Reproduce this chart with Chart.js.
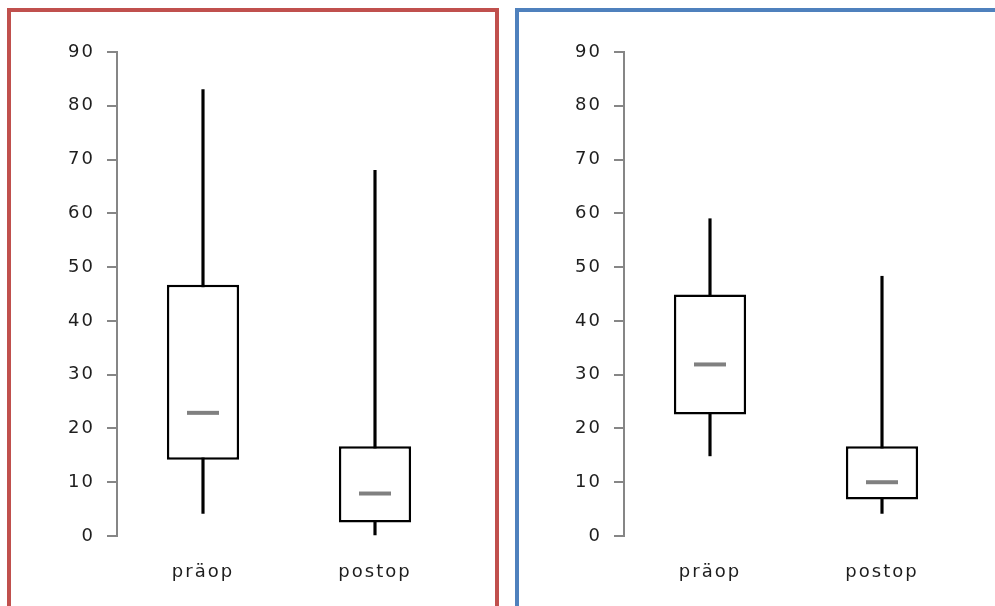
<!DOCTYPE html>
<html>
<head>
<meta charset="utf-8">
<script src="https://cdn.jsdelivr.net/npm/chart.js@4/dist/chart.umd.min.js"></script>
<style>
  html, body { margin: 0; padding: 0; background: #fff; overflow: hidden; }
  body { width: 995px; height: 606px; position: relative; }
  .frame { position: absolute; top: 8px; height: 700px; box-sizing: border-box; border-width: 4px; border-style: solid; border-bottom: none; }
  #frameLeft { left: 7px; width: 492px; border-color: #C0504D; }
  #frameRight { left: 515px; width: 500px; border-color: #4F81BD; border-right: none; }
  canvas { position: absolute; top: 12px; }
  #chartLeft { left: 11px; }
  #chartRight { left: 518px; }
</style>
</head>
<body>
<div class="frame" id="frameLeft"></div>
<div class="frame" id="frameRight"></div>
<canvas id="chartLeft" width="484" height="594"></canvas>
<canvas id="chartRight" width="477" height="594"></canvas>
<script>
// Categories and y axis range
const categories = ['präop', 'postop'];
const yMin = 0;
const yMax = 90;
const yStep = 10;

// Left panel: five-number summaries
const leftMin    = [4.2, 0];
const leftQ1     = [14.2, 2.5];
const leftMedian = [22.9, 7.9];
const leftQ3     = [46.7, 16.7];
const leftMax    = [83.0, 68.0];

// Right panel: five-number summaries
const rightMin    = [14.9, 4.2];
const rightQ1     = [22.6, 6.8];
const rightMedian = [31.9, 10.0];
const rightQ3     = [44.9, 16.7];
const rightMax    = [59.0, 48.3];

const TEXT_FONT = { family: 'DejaVu Sans', size: 18 };
const TEXT_COLOR = '#1e1e1e';
const AXIS_COLOR = '#868686';

// Spread glyphs a little, like the original worksheet font
const spacingPlugin = {
  id: 'letterSpacing',
  beforeLayout(chart) { chart.ctx.letterSpacing = '2px'; },
  beforeDraw(chart) { chart.ctx.letterSpacing = '2px'; }
};

function pairs(lo, hi) {
  return lo.map((v, i) => [v, hi[i]]);
}

function boxChart(canvasId, mins, q1s, medians, q3s, maxs, padRight) {
  return new Chart(document.getElementById(canvasId), {
    type: 'bar',
    data: {
      labels: categories,
      datasets: [
        {
          // medians
          type: 'line',
          data: medians,
          showLine: false,
          pointStyle: 'line',
          pointRadius: 16,
          pointHoverRadius: 16,
          pointBorderWidth: 4,
          pointBorderColor: '#808080',
          borderColor: '#808080',
          order: 1
        },
        {
          // interquartile boxes
          data: pairs(q1s, q3s),
          backgroundColor: '#ffffff',
          borderColor: '#000000',
          borderWidth: 2.5,
          borderSkipped: false,
          barPercentage: 0.42,
          categoryPercentage: 1,
          grouped: false,
          order: 2
        },
        {
          // whiskers, min to max
          data: pairs(mins, maxs),
          backgroundColor: '#000000',
          borderWidth: 0,
          barThickness: 2.5,
          grouped: false,
          order: 3
        }
      ]
    },
    options: {
      responsive: false,
      animation: false,
      events: [],
      layout: { padding: { top: 40, right: padRight, bottom: 10, left: 0 } },
      plugins: { legend: { display: false }, tooltip: { enabled: false } },
      scales: {
        x: {
          offset: true,
          grid: { display: false, drawTicks: false },
          border: { display: false },
          ticks: { font: TEXT_FONT, color: TEXT_COLOR, padding: 26, maxRotation: 0 },
          afterFit(scale) { scale.height = 60; }
        },
        y: {
          min: yMin,
          max: yMax,
          ticks: { stepSize: yStep, font: TEXT_FONT, color: TEXT_COLOR, padding: 12 },
          grid: { drawOnChartArea: false, drawTicks: true, tickLength: 10, color: AXIS_COLOR, lineWidth: 2 },
          border: { display: true, color: AXIS_COLOR, width: 2 },
          afterFit(scale) { scale.width = 106; }
        }
      }
    },
    plugins: [spacingPlugin]
  });
}

boxChart('chartLeft', leftMin, leftQ1, leftMedian, leftQ3, leftMax, 34);
boxChart('chartRight', rightMin, rightQ1, rightMedian, rightQ3, rightMax, 27);
</script>
</body>
</html>
